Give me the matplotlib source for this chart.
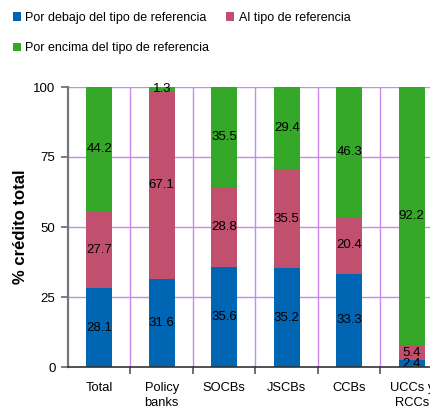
import matplotlib
matplotlib.use("Agg")
import matplotlib.pyplot as plt
import numpy as np
from matplotlib.patches import Patch

plt.rcParams['font.family'] = ['Liberation Sans', 'DejaVu Sans']

categories = ["Total", "Policy\nbanks", "SOCBs", "JSCBs", "CCBs", "UCCs y\nRCCs"]
below = [28.1, 31.6, 35.6, 35.2, 33.3, 2.4]
at = [27.7, 67.1, 28.8, 35.5, 20.4, 5.4]
above = [44.2, 1.3, 35.5, 29.4, 46.3, 92.2]
series_names = ["Por debajo del tipo de referencia", "Al tipo de referencia",
                "Por encima del tipo de referencia"]
colors = ["#0066B3", "#C0506E", "#36A829"]

W, H = 431, 407
fig = plt.figure(figsize=(W / 100, H / 100), dpi=100)
ax = fig.add_axes([68 / W, (H - 367) / H, 375 / W, 280 / H])

x = np.arange(len(categories))
series = [below, at, above]
bottom = np.zeros(len(categories))
for vals, col in zip(series, colors):
    vals = np.array(vals)
    ax.bar(x, vals, 0.42, bottom=bottom, color=col, zorder=3)
    for xi, b, v in zip(x, bottom, vals):
        ax.text(xi, b + v / 2, f"{v:.1f}", ha='center', va='center',
                fontsize=9.5, color='black', zorder=4)
    bottom = bottom + vals

ax.set_xlim(-0.5, len(categories) - 0.5)
ax.set_ylim(0, 100)
ax.set_yticks([0, 25, 50, 75, 100])
ax.set_yticklabels(["0", "25", "50", "75", "100"], fontsize=9.5)
ax.set_xticks(x)
ax.set_xticklabels(categories, fontsize=9.3, linespacing=1.3)
ax.tick_params(axis='x', length=0, pad=11)
ax.set_xticks(np.arange(0.5, len(categories) - 0.5, 1), minor=True)
ax.tick_params(axis='x', which='minor', length=5, color='#555555', width=1.2)
ax.tick_params(axis='y', length=5, color='#666666', width=1.2, pad=4)

grid_c = '#CC88EE'
for yv in [25, 50, 75, 100]:
    ax.axhline(yv, color=grid_c, lw=1, zorder=1)
for xv in np.arange(0.5, len(categories) - 0.5, 1):
    ax.axvline(xv, color=grid_c, lw=1, zorder=1)

for s in ['top', 'right']:
    ax.spines[s].set_visible(False)
ax.spines['left'].set_color('#777777')
ax.spines['left'].set_linewidth(1.6)
ax.spines['bottom'].set_color('#333333')
ax.spines['bottom'].set_linewidth(1.2)
ax.spines['left'].set_zorder(5)
ax.spines['bottom'].set_zorder(5)

ax.set_ylabel("% crédito total", fontsize=12, fontweight='bold', labelpad=4)

handles = [Patch(facecolor=c, edgecolor='none') for c in colors]
order = [0, 2, 1]
fig.legend([handles[i] for i in order], [series_names[i] for i in order],
           ncol=2, loc='upper left', bbox_to_anchor=(9 / W, 1 - 8 / H),
           frameon=False, fontsize=9, handlelength=0.65, handleheight=0.65,
           handletextpad=0.35, labelspacing=1.5, columnspacing=1.35,
           borderaxespad=0, borderpad=0.3)

fig.savefig("out.png", dpi=100)
